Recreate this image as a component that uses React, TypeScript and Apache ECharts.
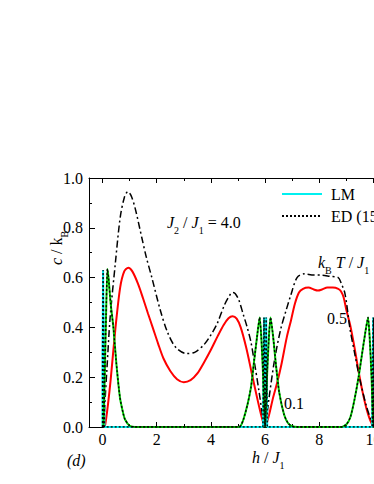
import React, { useEffect, useRef } from "react";
import * as echarts from "echarts";

// ---- axes ----
const xMajorTicks = [0, 2, 4, 6, 8, 10];
const xMinorTicks = [1, 3, 5, 7, 9];
const yMajorTicks = [0, 0.2, 0.4, 0.6, 0.8, 1.0];
const yMinorTicks = [0.1, 0.3, 0.5, 0.7, 0.9];
const legendNames = ["LM", "ED (15)"];

// ---- red curve (kBT/J1 = 0.5) ----
const redH = [0.05, 0.1, 0.2, 0.3, 0.47, 0.65, 0.8, 0.95, 1.1, 1.31, 1.5, 1.68, 1.85, 2.05, 2.25, 2.5, 2.75, 3.0, 3.25, 3.5, 3.75, 4.0, 4.25, 4.47, 4.65, 4.8, 4.95, 5.1, 5.3, 5.5, 5.7, 5.85, 5.95, 6.0, 6.05, 6.15, 6.3, 6.45, 6.6, 6.8, 6.96, 7.1, 7.25, 7.4, 7.6, 7.8, 7.95, 8.1, 8.3, 8.5, 8.7, 8.8, 8.9, 9.0, 9.14, 9.3, 9.44, 9.6, 9.75, 9.87, 10.0];
const redC = [0, 0.01, 0.09, 0.19, 0.39, 0.56, 0.625, 0.64, 0.625, 0.575, 0.515, 0.455, 0.4, 0.335, 0.275, 0.225, 0.192, 0.18, 0.188, 0.215, 0.26, 0.31, 0.365, 0.41, 0.437, 0.445, 0.435, 0.4, 0.32, 0.22, 0.12, 0.05, 0.012, 0.005, 0.012, 0.05, 0.12, 0.18, 0.25, 0.36, 0.43, 0.495, 0.54, 0.555, 0.56, 0.552, 0.548, 0.552, 0.56, 0.56, 0.555, 0.545, 0.52, 0.47, 0.41, 0.32, 0.23, 0.14, 0.07, 0.03, 0];

// ---- dash-dot curve (ED, kBT/J1 = 0.5) ----
const ddH = [0.05, 0.1, 0.16, 0.28, 0.47, 0.65, 0.8, 0.93, 1.05, 1.2, 1.45, 1.62, 1.82, 2.13, 2.4, 2.7, 3.1, 3.4, 3.74, 4.0, 4.23, 4.5, 4.7, 4.8, 4.9, 5.03, 5.2, 5.34, 5.48, 5.62, 5.78, 5.9, 5.97, 6.03, 6.15, 6.35, 6.57, 6.78, 6.95, 7.18, 7.44, 7.8, 8.07, 8.4, 8.7, 8.8, 8.95, 9.14, 9.3, 9.5, 9.75, 10.0];
const ddC = [0, 0.12, 0.23, 0.44, 0.655, 0.84, 0.92, 0.945, 0.93, 0.88, 0.76, 0.68, 0.6, 0.47, 0.38, 0.32, 0.295, 0.3, 0.33, 0.37, 0.415, 0.49, 0.53, 0.54, 0.535, 0.51, 0.45, 0.4, 0.34, 0.25, 0.14, 0.05, 0.01, 0.02, 0.12, 0.27, 0.39, 0.47, 0.53, 0.6, 0.615, 0.61, 0.61, 0.605, 0.6, 0.58, 0.535, 0.39, 0.3, 0.19, 0.08, 0];

// ---- green curve (kBT/J1 = 0.1) ----
const greenH = [0.03, 0.08, 0.13, 0.18, 0.22, 0.3, 0.4, 0.51, 0.64, 0.75, 0.83, 1.0, 1.2, 5.0, 5.1, 5.2, 5.35, 5.48, 5.6, 5.7, 5.8, 5.86, 5.93, 6.0, 6.07, 6.14, 6.2, 6.3, 6.4, 6.52, 6.7, 6.85, 7.0, 7.2, 8.8, 9.0, 9.15, 9.3, 9.45, 9.56, 9.7, 9.8, 9.86, 9.93, 10.0, 10.07, 10.14, 10.2, 10.3];
const greenC = [0, 0.2, 0.45, 0.635, 0.6, 0.495, 0.4, 0.255, 0.12, 0.06, 0.03, 0.005, 0, 0, 0.005, 0.03, 0.09, 0.16, 0.27, 0.36, 0.44, 0.36, 0.2, 0, 0.2, 0.36, 0.44, 0.36, 0.25, 0.14, 0.05, 0.015, 0.003, 0, 0, 0.01, 0.04, 0.11, 0.2, 0.28, 0.38, 0.44, 0.36, 0.2, 0, 0.2, 0.36, 0.44, 0.36];

// ---- cyan curve (LM, lowest temperature) ----
const cyanH = [0, 0.0, 0.02, 0.04, 0.07, 5.92, 5.96, 6.0, 6.04, 6.08, 9.95, 9.99, 10.0, 10.01, 10.05, 10.5];
const cyanC = [0, 0.3, 0.63, 0.4, 0, 0, 0.44, 0, 0.44, 0, 0, 0.44, 0, 0.44, 0, 0];

const pairs = (h: number[], c: number[]) => h.map((v, i) => [v, c[i]]);

const FONT = "'Liberation Serif', 'Times New Roman', serif";

export default function App() {
  const ref = useRef<HTMLDivElement>(null);
  useEffect(() => {
    const chart = echarts.init(ref.current!, null, { renderer: "svg" });
    const black = "#000";
    const lbl = { fontFamily: FONT, fontSize: 16, color: black };
    const rich = {
      n: { fontFamily: FONT, fontSize: 16, color: black },
      i: { fontFamily: FONT, fontSize: 16, fontStyle: "italic", color: black },
      s: { fontFamily: FONT, fontSize: 10, color: black, padding: [16, 0, 0, 0] },
    };
    const tickAxis = (position: string, values: number[], len: number, line: boolean, labels: boolean, isX: boolean) => ({
      type: "value",
      position,
      min: isX ? -0.5 : 0,
      max: isX ? 10.5 : 1,
      axisLine: { show: line, onZero: false, lineStyle: { color: black, width: 1 } },
      axisTick: { show: true, inside: true, length: len, customValues: values, lineStyle: { color: black, width: 1 } },
      axisLabel: labels
        ? {
            show: true,
            customValues: values,
            margin: isX ? 4 : 6,
            ...lbl,
            formatter: (v: number) => (isX ? String(v) : v.toFixed(1)),
          }
        : { show: false },
      splitLine: { show: false },
    });
    const lineSeries = (name: string, data: number[][], color: string, width: number, type: any, smooth: any, z: number) => ({
      name,
      type: "line",
      data,
      symbol: "none",
      smooth,
      z,
      lineStyle: { color, width, type },
      itemStyle: { color },
    });

    chart.setOption({
      animation: false,
      backgroundColor: "#fff",
      grid: { left: 89, top: 178, width: 298, height: 249, containLabel: false },
      xAxis: [
        tickAxis("bottom", xMajorTicks, 5, true, true, true),
        tickAxis("top", xMajorTicks, 5, true, false, true),
        tickAxis("bottom", xMinorTicks, 3, false, false, true),
        tickAxis("top", xMinorTicks, 3, false, false, true),
      ],
      yAxis: [
        tickAxis("left", yMajorTicks, 6, true, true, false),
        tickAxis("right", yMajorTicks, 6, true, false, false),
        tickAxis("left", yMinorTicks, 3, false, false, false),
        tickAxis("right", yMinorTicks, 3, false, false, false),
      ],
      legend: {
        data: legendNames,
        orient: "vertical",
        left: 281,
        top: 186,
        padding: 0,
        itemWidth: 40,
        itemHeight: 14,
        itemGap: 6,
        itemStyle: { color: "rgba(0,0,0,0)", borderColor: "rgba(0,0,0,0)", borderWidth: 0 },
        textStyle: { ...lbl, padding: [0, 0, 0, 4] },
      },
      graphic: [
        {
          type: "text",
          x: 167,
          y: 222,
          style: {
            text: "{i|J}{s|2}{n| / }{i|J}{s|1}{n| = 4.0}",
            rich,
            align: "left",
            verticalAlign: "middle",
          },
        },
        {
          type: "text",
          x: 318,
          y: 262,
          style: {
            text: "{i|k}{s|B}{n| }{i|T}{n| / }{i|J}{s|1}",
            rich,
            align: "left",
            verticalAlign: "middle",
          },
        },
        { type: "text", x: 337, y: 318, style: { text: "0.5", fill: black, align: "center", verticalAlign: "middle", fontFamily: FONT, fontSize: 16 } },
        { type: "text", x: 294, y: 403, style: { text: "0.1", fill: black, align: "center", verticalAlign: "middle", fontFamily: FONT, fontSize: 16 } },
        { type: "text", x: 67, y: 460, style: { text: "(d)", fill: black, align: "left", verticalAlign: "middle", fontFamily: FONT, fontSize: 16, fontStyle: "italic" } },
        {
          type: "text",
          x: 252,
          y: 457,
          style: { text: "{i|h}{n| / }{i|J}{s|1}", rich, align: "left", verticalAlign: "middle" },
        },
        {
          type: "text",
          x: 56,
          y: 248,
          rotation: Math.PI / 2,
          style: { text: "{i|c}{n| / k}{s|B}", rich, align: "center", verticalAlign: "middle" },
        },
      ],
      series: [
        lineSeries("T05", pairs(redH, redC), "#ff0000", 2, "solid", 0.3, 2),
        lineSeries("ED T05", pairs(ddH, ddC), black, 1.5, [7, 3, 2, 3], 0.3, 3),
        lineSeries("LM", pairs(cyanH, cyanC), "#00f0f0", 2, "solid", false, 4),
        lineSeries("T01", pairs(greenH, greenC), "#00cc00", 2, "solid", 0.2, 5),
        lineSeries("ED (15)", pairs(greenH, greenC), black, 1.4, [2, 2], 0.2, 6),
        lineSeries("ED (15)", pairs(cyanH, cyanC), black, 1.4, [2, 2], false, 7),
      ],
    });
    return () => chart.dispose();
  }, []);
  return (
    <div style={{ position: "fixed", left: 0, top: 0, width: 374, height: 484, overflow: "hidden", background: "#fff" }}>
      <div ref={ref} style={{ width: 420, height: 484 }} />
    </div>
  );
}
